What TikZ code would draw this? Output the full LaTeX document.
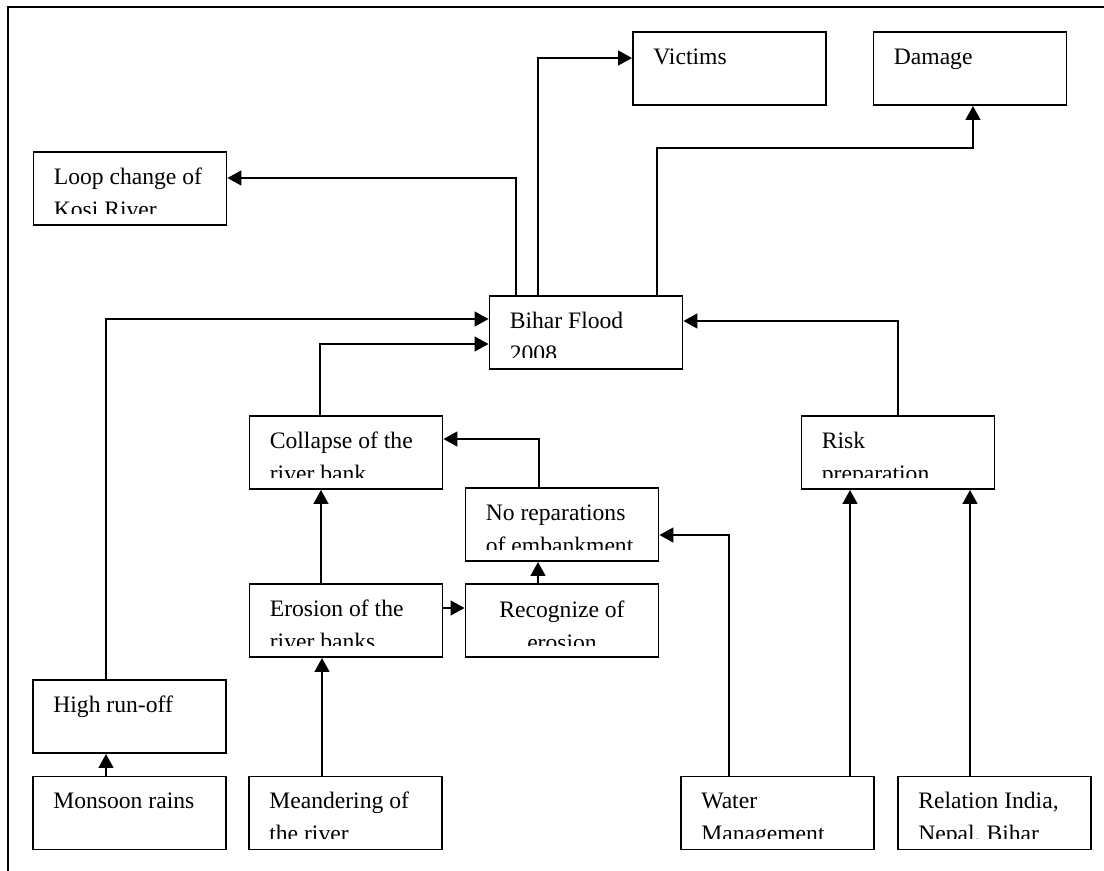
\documentclass[tikz,border=0pt]{standalone}
\usepackage{fontspec}
\setmainfont{Liberation Serif}
\usetikzlibrary{arrows.meta}
\newcommand\twolines[3]{%
  \begin{scope}
    \clip (#1.north west) rectangle ([yshift=9pt]#1.south east);
    \node[txt] (#1-a) at ([xshift=15.75pt,yshift=-24.75pt]#1.north west) {#2};
    \node[txt] (#1-b) at ([xshift=15.75pt,yshift=-49.5pt]#1.north west) {#3};
  \end{scope}}
\newcommand\oneline[2]{%
  \node[txt] (#1-a) at ([xshift=15.75pt,yshift=-24.75pt]#1.north west) {#2};}
\begin{document}
\begin{tikzpicture}[x=0.75pt,y=-0.75pt,
  bx/.style={draw, line width=1.35pt, minimum width=144.75pt, minimum height=54.75pt, inner sep=0pt},
  txt/.style={anchor=base west, inner sep=0pt, font=\fontsize{17.7pt}{21pt}\selectfont},
  arr/.style={line width=1.8pt, -{Triangle[length=10.5pt,width=11pt]}},
  frame/.style={line width=1.3pt}]
\useasboundingbox (0,0) rectangle (1104,871);
% frame
\draw[frame] (8,871) -- (8,7) -- (1104,7);
% boxes
\node[bx] (loop) at (130,188.5) {};
\node[bx] (victims) at (729.5,68.5) {};
\node[bx] (damage) at (970,68.5) {};
\node[bx] (bihar) at (586,332.5) {};
\node[bx] (collapse) at (346,452.5) {};
\node[bx] (norep) at (562,524.5) {};
\node[bx] (risk) at (898,452.5) {};
\node[bx] (erosion) at (346,620.5) {};
\node[bx] (recog) at (562,620.5) {};
\node[bx] (high) at (129.5,716.5) {};
\node[bx] (monsoon) at (129.5,813) {};
\node[bx] (meander) at (345.5,813) {};
\node[bx] (water) at (777.5,813) {};
\node[bx] (relation) at (994.5,813) {};
% texts
\twolines{loop}{Loop change of}{Kosi River}
\oneline{victims}{Victims}
\oneline{damage}{Damage}
\twolines{bihar}{Bihar Flood}{2008}
\twolines{collapse}{Collapse of the}{river bank}
\twolines{norep}{No reparations}{of embankment}
\twolines{risk}{Risk}{preparation}
\twolines{erosion}{Erosion of the}{river banks}
\begin{scope}
  \clip (recog.north west) rectangle ([yshift=9pt]recog.south east);
  \node[txt,anchor=base] (recog-a) at ([yshift=-25.5pt]recog.north) {Recognize of};
  \node[txt,anchor=base] (recog-b) at ([yshift=-50.25pt]recog.north) {erosion};
\end{scope}
\oneline{high}{High run-off}
\oneline{monsoon}{Monsoon rains}
\twolines{meander}{Meandering of}{the river}
\twolines{water}{Water}{Management}
\twolines{relation}{Relation India,}{Nepal, Bihar}
% bend coordinates
\coordinate (b1) at (106,319);
\coordinate (b2) at (320,344);
\coordinate (b3) at (539,439);
\coordinate (b4) at (321,500);
\coordinate (b5) at (322,700);
\coordinate (b6) at (450,608);
\coordinate (b7) at (538,570);
\coordinate (b8) at (729,535);
\coordinate (b9) at (850,600);
\coordinate (b10) at (970,600);
\coordinate (b11) at (898,321);
\coordinate (b12) at (516,178);
\coordinate (b13) at (538,58);
\coordinate (b14) at (657,148);
\coordinate (b15) at (973,148);
% connectors
\draw[arr] (monsoon.north -| b1) -- (high.south -| b1);
\draw[arr] (high.north -| b1) -- (b1) -- (b1 -| bihar.west);
\draw[arr] (collapse.north -| b2) -- (b2) -- (b2 -| bihar.west);
\draw[arr] (norep.north -| b3) -- (b3) -- (b3 -| collapse.east);
\draw[arr] (erosion.north -| b4) -- (collapse.south -| b4);
\draw[arr] (meander.north -| b5) -- (erosion.south -| b5);
\draw[arr] (erosion.east |- b6) -- (recog.west |- b6);
\draw[arr] (recog.north -| b7) -- (norep.south -| b7);
\draw[arr] (water.north -| b8) -- (b8) -- (b8 -| norep.east);
\draw[arr] (water.north -| b9) -- (risk.south -| b9);
\draw[arr] (relation.north -| b10) -- (risk.south -| b10);
\draw[arr] (risk.north -| b11) -- (b11) -- (b11 -| bihar.east);
\draw[arr] (bihar.north -| b12) -- (b12) -- (b12 -| loop.east);
\draw[arr] (bihar.north -| b13) -- (b13) -- (b13 -| victims.west);
\draw[arr] (bihar.north -| b14) -- (b14) -- (b15) -- (damage.south -| b15);
\end{tikzpicture}
\end{document}
